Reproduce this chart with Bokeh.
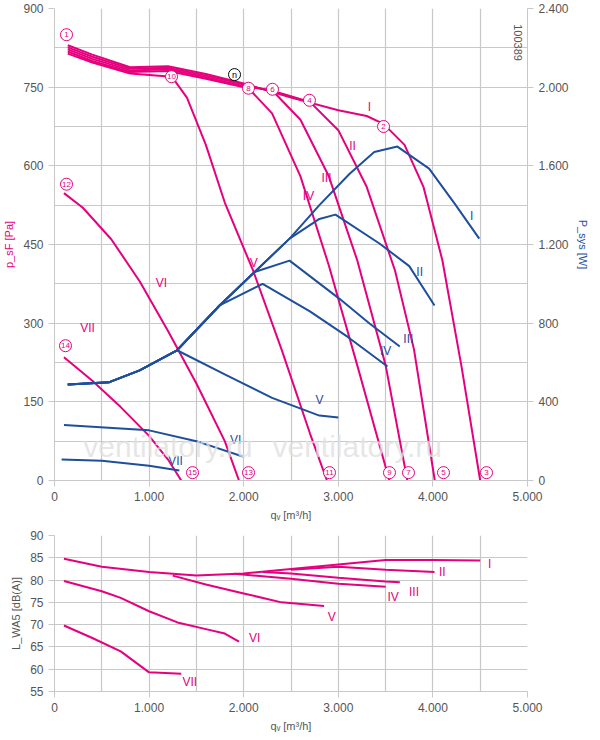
import numpy as np
from bokeh.plotting import figure
from bokeh.layouts import column
from bokeh.models import Range1d, LinearAxis, FixedTicker
from bokeh.embed import file_html
from bokeh.resources import INLINE

PINK = "#e6007e"; BLUE = "#1f4e9c"; GRID = "#c8c8c8"; TXT = "#555555"

# ---- pressure curves (x m3/h, Pa)
pI_x = [140, 400, 800, 1200, 1600, 2000, 2500, 3000, 3300, 3478, 3700, 3900, 4100, 4300, 4500]
pI_y = [830, 812, 788, 790, 775, 757, 730, 706, 695, 680, 640, 560, 420, 220, 0]
pII_x = [140, 400, 800, 1200, 1600, 2000, 2400, 2700, 3000, 3300, 3600, 3800, 4020]
pII_y = [826, 808, 785, 787, 772, 755, 738, 722, 668, 560, 400, 250, 0]
pIII_x = [140, 400, 800, 1200, 1600, 2000, 2300, 2600, 2900, 3200, 3500, 3730]
pIII_y = [822, 804, 782, 784, 769, 752, 744, 688, 580, 420, 220, 0]
pIV_x = [140, 400, 800, 1200, 1600, 2050, 2300, 2600, 2900, 3200, 3540]
pIV_y = [818, 800, 779, 781, 766, 748, 700, 580, 410, 220, 0]
pV_x = [140, 400, 800, 1240, 1400, 1600, 1800, 2100, 2400, 2700, 2880]
pV_y = [814, 797, 776, 770, 730, 640, 530, 400, 250, 90, 0]
pVI_x = [100, 300, 600, 900, 1200, 1500, 1800, 1950]
pVI_y = [548, 520, 460, 380, 285, 185, 75, 0]
pVII_x = [100, 400, 700, 1000, 1200, 1340]
pVII_y = [235, 190, 140, 85, 40, 0]

# ---- power curves (x, W)
main_x = [140, 580, 900, 1290, 1745, 2115, 2485, 2800, 3120, 3380, 3625]
main_y = [488, 500, 560, 660, 890, 1060, 1230, 1400, 1560, 1670, 1698]
wI_x = main_x + [3960, 4230, 4490]
wI_y = main_y + [1586, 1408, 1230]
wII_x = [140, 580, 900, 1290, 1745, 2115, 2485, 2800, 2970, 3435, 3750, 4017]
wII_y = [488, 500, 560, 660, 890, 1060, 1230, 1330, 1352, 1205, 1090, 890]
wIII_x = [140, 580, 900, 1290, 1745, 2115, 2485, 3010, 3330, 3650]
wIII_y = [488, 500, 560, 660, 890, 1060, 1118, 925, 798, 681]
wIV_x = [140, 580, 900, 1290, 1745, 2200, 2700, 3100, 3520]
wIV_y = [488, 500, 560, 660, 890, 1000, 860, 730, 580]
wV_x = [1300, 1800, 2300, 2800, 3000]
wV_y = [661, 540, 420, 330, 320]
wVI_x = [100, 1000, 1500, 1990]
wVI_y = [282, 255, 200, 122]
wVII_x = [75, 500, 1000, 1320]
wVII_y = [107, 100, 75, 51]

# ---- sound curves (x, dB(A))
sI_x = [100, 500, 1000, 1500, 2000, 2500, 3000, 3500, 4000, 4500]
sI_y = [84.8, 83.0, 81.8, 81.0, 81.5, 82.5, 83.5, 84.5, 84.5, 84.4]
sII_x = [2500, 3000, 3500, 4017]
sII_y = [82.3, 83.0, 82.3, 81.8]
sIII_x = [2200, 2500, 3000, 3500, 3650]
sIII_y = [81.8, 81.5, 80.5, 79.7, 79.5]
sIV_x = [1900, 2500, 3000, 3500]
sIV_y = [81.4, 80.3, 79.2, 78.5]
sV_x = [1250, 1600, 2000, 2400, 2850]
sV_y = [81.0, 79.0, 77.0, 75.0, 74.2]
sVI_x = [100, 500, 700, 1000, 1300, 1600, 1800, 1950]
sVI_y = [79.8, 77.5, 76.0, 73.0, 70.5, 69.0, 68.0, 66.2]
sVII_x = [100, 400, 700, 1000, 1340]
sVII_y = [69.8, 67.0, 64.0, 59.3, 59.0]

roman = ["I", "II", "III", "IV", "V", "VI", "VII"]
lp_x = [3330, 3150, 2875, 2685, 2105, 1130, 350]
lp_y = [713, 637, 576, 543, 414, 376, 290]
lw_x = [4410, 3860, 3740, 3500, 2800, 1915, 1280]
lw_y = [1347, 1062, 722, 656, 407, 208, 97]
ls_x = [4600, 4100, 3800, 3580, 2930, 2115, 1430]
ls_y = [83.5, 81.7, 77.4, 76.3, 71.8, 67.1, 57.2]

mk_lab = ["1", "2", "3", "4", "5", "6", "7", "8", "9", "10", "11", "12", "13", "14", "15"]
mk_x = [127, 3478, 4567, 2695, 4112, 2304, 3742, 2051, 3541, 1237, 2907, 127, 2051, 116, 1459]
mk_y = [850, 675, 15, 725, 15, 746, 15, 748, 15, 770, 15, 565, 15, 257, 15]
n_x = [1903]; n_y = [774]

xt = list(range(0, 5001, 1000))
xlab = {0: "0", 1000: "1.000", 2000: "2.000", 3000: "3.000", 4000: "4.000", 5000: "5.000"}

def style(p):
    p.xgrid.ticker = FixedTicker(ticks=list(range(0, 5001, 500)))
    for g in (p.xgrid[0], p.ygrid[0]):
        g.grid_line_color = GRID; g.grid_line_width = 1.2
    p.outline_line_color = None
    for ax in p.axis:
        ax.axis_line_color = GRID; ax.major_tick_line_color = GRID
        ax.minor_tick_line_color = None
        ax.major_label_text_color = TXT; ax.major_label_text_font_size = "12px"
        ax.major_label_text_font = "Liberation Sans"
        ax.axis_label_text_font = "Liberation Sans"; ax.axis_label_text_font_size = "11px"
        ax.axis_label_text_font_style = "normal"; ax.axis_label_text_color = TXT
        ax.major_tick_out = 6; ax.major_tick_in = 0

p = figure(frame_width=473, frame_height=472, x_range=Range1d(0, 5000), y_range=Range1d(0, 900),
           output_backend="svg", toolbar_location=None, min_border_left=47, min_border_right=64,
           min_border_top=8)
p.extra_y_ranges = {"w": Range1d(0, 2400)}
p.xaxis.ticker = FixedTicker(ticks=xt); p.xaxis.major_label_overrides = xlab
p.xaxis.axis_label = "qᵥ [m³/h]"
p.yaxis.ticker = FixedTicker(ticks=list(range(0, 901, 150)))
p.ygrid.ticker = FixedTicker(ticks=list(range(0, 901, 75)))
p.yaxis.axis_label = "p_sF [Pa]"
ra = LinearAxis(y_range_name="w", ticker=FixedTicker(ticks=list(range(0, 2401, 400))),
                axis_label="P_sys [W]")
ra.major_label_overrides = {0: "0", 400: "400", 800: "800", 1200: "1.200", 1600: "1.600",
                            2000: "2.000", 2400: "2.400"}
p.add_layout(ra, "right")
style(p)
p.yaxis[0].axis_label_text_color = PINK
ra.axis_label_text_color = BLUE

for xs, ys in [(pI_x, pI_y), (pII_x, pII_y), (pIII_x, pIII_y), (pIV_x, pIV_y), (pV_x, pV_y),
               (pVI_x, pVI_y), (pVII_x, pVII_y)]:
    p.line(xs, ys, color=PINK, line_width=2)
for xs, ys in [(wI_x, wI_y), (wII_x, wII_y), (wIII_x, wIII_y), (wIV_x, wIV_y), (wV_x, wV_y),
               (wVI_x, wVI_y), (wVII_x, wVII_y)]:
    p.line(xs, ys, color=BLUE, line_width=2, y_range_name="w")
p.text(lp_x, lp_y, text=roman, text_color=PINK, text_font_size="12px", text_align="center",
       text_baseline="middle")
p.text(lw_x, lw_y, text=roman, text_color=BLUE, text_font_size="12px", text_align="center",
       text_baseline="middle", y_range_name="w")
p.scatter(mk_x, mk_y, size=12, fill_color="white", line_color=PINK, line_width=1)
p.text(mk_x, mk_y, text=mk_lab, text_color=PINK, text_font_size="8px", text_align="center",
       text_baseline="middle")
p.scatter(n_x, n_y, size=12, fill_color="white", line_color="black", line_width=1)
p.text(n_x, n_y, text=["n"], text_color="black", text_font_size="9px", text_align="center",
       text_baseline="middle")
p.text([1200, 3200], [65, 65], text=["ventilatory.ru", "ventilatory.ru"], text_color="#e0e0e0",
       text_font_size="30px", text_align="center", text_baseline="middle", text_alpha=0.8)
p.text([4900], [870], text=["100389"], angle=-np.pi / 2, text_color=TXT, text_font_size="11px",
       text_align="left", text_baseline="middle")

q = figure(frame_width=473, frame_height=156, x_range=Range1d(0, 5000), y_range=Range1d(55, 90),
           output_backend="svg", toolbar_location=None, min_border_left=47, min_border_right=64,
           min_border_top=12)
q.xaxis.ticker = FixedTicker(ticks=xt); q.xaxis.major_label_overrides = xlab
q.xaxis.axis_label = "qᵥ [m³/h]"
q.yaxis.ticker = FixedTicker(ticks=list(range(55, 91, 5)))
q.yaxis.axis_label = "L_WA5 [dB(A)]"
style(q)
for xs, ys in [(sI_x, sI_y), (sII_x, sII_y), (sIII_x, sIII_y), (sIV_x, sIV_y), (sV_x, sV_y),
               (sVI_x, sVI_y), (sVII_x, sVII_y)]:
    q.line(xs, ys, color=PINK, line_width=2)
q.text(ls_x, ls_y, text=roman, text_color=PINK, text_font_size="12px", text_align="center",
       text_baseline="middle")

open("out.html", "w").write(file_html(column(p, q, spacing=0), INLINE))
